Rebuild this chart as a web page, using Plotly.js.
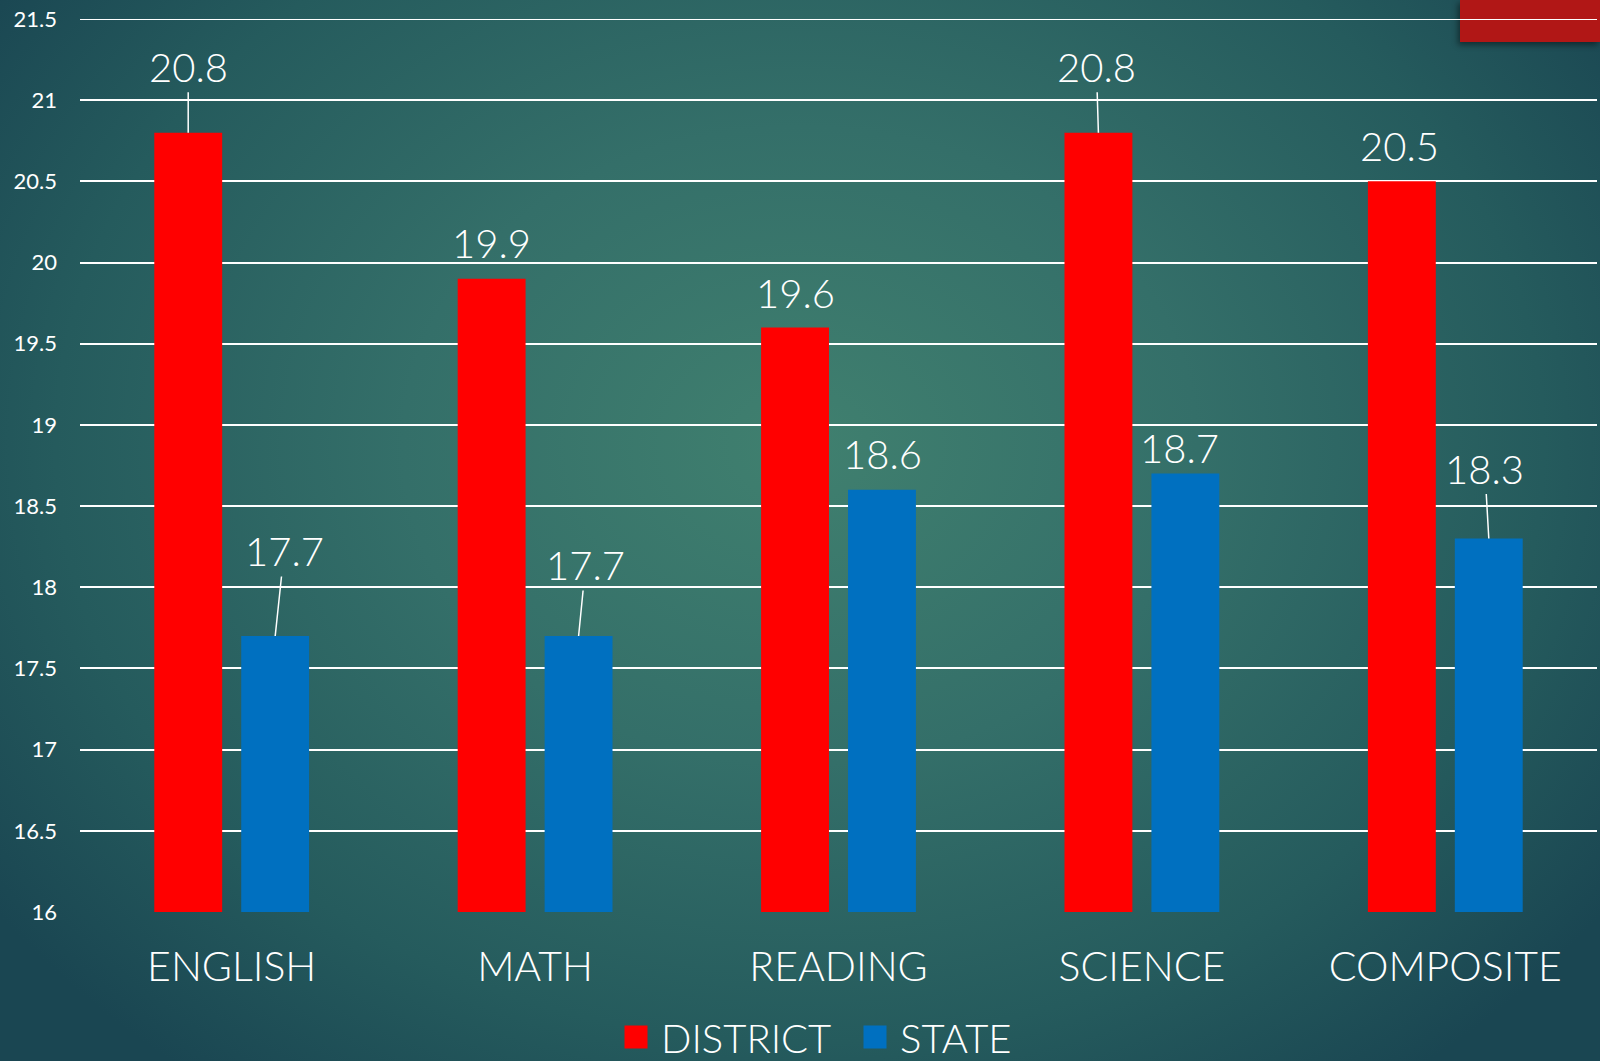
<!DOCTYPE html>
<html>
<head>
<meta charset="utf-8">
<script src="https://cdn.plot.ly/plotly-3.0.1.min.js"></script>
<style>
html, body { margin:0; padding:0; width:1600px; height:1061px; overflow:hidden;
  background: radial-gradient(ellipse 62% 75% at 50% 42%, #40806f 0%, #346f69 40%, #255b5d 75%, #1a4652 100%); }
#chart { position:relative; z-index:1; width:1600px; height:1061px; }
#block { position:absolute; z-index:0; left:1460px; top:0; width:140px; height:42px;
  background:#b11716; box-shadow:-2px 3px 6px rgba(0,0,0,0.45); }
</style>
</head>
<body>
<div id="block"></div>
<div id="chart"></div>
<script>
// ---- data ----
const categories = ["ENGLISH", "MATH", "READING", "SCIENCE", "COMPOSITE"];
const districtValues = [20.8, 19.9, 19.6, 20.8, 20.5];
const stateValues = [17.7, 17.7, 18.6, 18.7, 18.3];
const seriesNames = ["DISTRICT", "STATE"];
const yTicks = [16, 16.5, 17, 17.5, 18, 18.5, 19, 19.5, 20, 20.5, 21, 21.5];

// ---- label placement (pixels, style only) ----
const barShift = 43.5;
const districtLabelOffsets = [[0,-66,true],[0,-36,false],[0,-34,false],[-2,-66,true],[-2,-35,false]];
const stateLabelOffsets = [[9,-85,true],[7,-71,true],[0,-36,false],[-6,-26,false],[-4,-70,true]];

const font = "Lato, 'Open Sans', sans-serif";

const traces = [
  { type:"bar", name:seriesNames[0], x:categories, y:districtValues, marker:{color:"#ff0000"}, hoverinfo:"y" },
  { type:"bar", name:seriesNames[1], x:categories, y:stateValues, marker:{color:"#0070c0"}, hoverinfo:"y" }
];

function mkAnn(vals, offs, side) {
  return vals.map((v, i) => ({
    x: categories[i], y: v, xref:"x", yref:"y",
    xshift: side * barShift,
    text: v.toFixed(1),
    showarrow: true, arrowhead: 0, arrowwidth: 1.5,
    arrowcolor: offs[i][2] ? "#ffffff" : "rgba(0,0,0,0)",
    ax: offs[i][0], ay: offs[i][1], standoff: 0,
    font: { family: font, size: 40, color: "#ffffff", weight: 300 }
  }));
}

const layout = {
  width:1600, height:1061,
  paper_bgcolor:"rgba(0,0,0,0)", plot_bgcolor:"rgba(0,0,0,0)",
  margin:{l:80, r:3, t:19, b:149},
  barmode:"group", bargap:0.427, bargroupgap:0.219,
  font:{family:font, color:"#ffffff"},
  xaxis:{ type:"category", showgrid:false, zeroline:false, showline:false,
          tickfont:{size:41, color:"#ffffff", weight:300}, ticklabelstandoff:27, fixedrange:true },
  yaxis:{ range:[16, 21.5], tickvals:yTicks, ticktext:yTicks.map(String),
          showgrid:true, gridcolor:"#ffffff", gridwidth:2, zeroline:false, showline:false,
          tickfont:{size:22, color:"#ffffff"}, ticklabelstandoff:22, fixedrange:true },
  showlegend:true,
  legend:{ orientation:"h", xref:"container", yref:"container", x:611/1600, xanchor:"left",
           y:24/1061, yanchor:"middle", font:{size:40, color:"#ffffff", weight:300},
           itemwidth:40, entrywidth:184, bgcolor:"rgba(0,0,0,0)", traceorder:"normal" },
  annotations: mkAnn(districtValues, districtLabelOffsets, -1).concat(mkAnn(stateValues, stateLabelOffsets, 1)),
  shapes:[
    { type:"line", xref:"paper", yref:"y", x0:0, x1:1, y0:21.5, y1:21.5, layer:"below",
      line:{color:"#ffffff", width:2} }
  ]
};

Plotly.newPlot("chart", traces, layout, {displayModeBar:false, staticPlot:true}).then(() => {
  document.querySelectorAll("#chart .legendpoints path").forEach(p => {
    p.setAttribute("d", "M11.5,11.5H-11.5V-11.5H11.5Z");
  });
});
</script>
</body>
</html>
